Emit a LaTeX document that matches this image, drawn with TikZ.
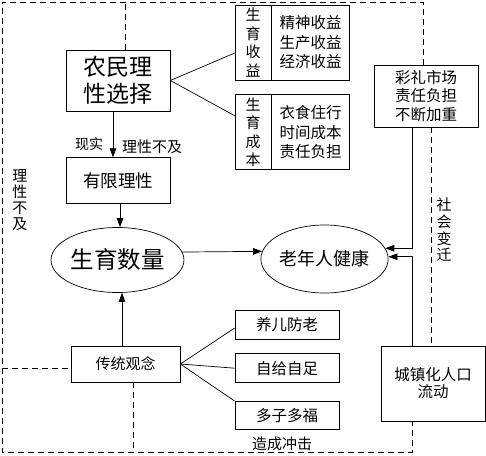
\documentclass[tikz,border=0pt]{standalone}
\usepackage{fontspec}
\setmainfont{Noto Sans CJK SC}
\usetikzlibrary{positioning, arrows.meta, shapes.geometric}

\begin{document}
\begin{tikzpicture}[
        % ----- 全局样式 -----
        x=1pt, y=1pt,
        line width=0.7pt,
        >={Triangle[length=9pt,width=6.5pt]},
        % 方框与椭圆
        box/.style={draw, inner sep=0pt, align=center},
        ell/.style={draw, ellipse, inner sep=0pt, minimum width=125pt},
        % 说明文字
        txt/.style={inner sep=0pt, align=center, font=\fontsize{15}{16}\selectfont},
        arr/.style={->},
        frame/.style={draw, dash pattern=on 6pt off 4pt}
    ]
    \useasboundingbox (0,0) rectangle (486,-455);

    % ----- 左列 -----
    \node[box, minimum width=104pt, minimum height=61pt, font=\fontsize{23}{27}\selectfont] (nm) at (118,-80.5) {农民理\\性选择};
    \node[box, minimum width=104pt, minimum height=46pt, font=\fontsize{17.5}{20}\selectfont, below=46pt of nm] (yx) {有限理性};
    \node[ell, minimum height=65pt, font=\fontsize{23.5}{26}\selectfont] (sysl) at (117.5,-260) {生育数量};
    \node[box, minimum width=109pt, minimum height=36pt, font=\fontsize{15}{17}\selectfont] (ctgn) at (125.5,-364) {传统观念};

    % ----- 收益与成本 -----
    \node[box, minimum width=36pt, minimum height=75pt, font=\fontsize{15}{18.5}\selectfont] (syl) at (253,-42.5) {生\\育\\收\\益};
    \node[box, minimum width=78pt, minimum height=75pt, font=\fontsize{15.5}{19.5}\selectfont, right=0pt of syl] (sysy) {精神收益\\生产收益\\经济收益};
    \node[box, minimum width=36pt, minimum height=75pt, font=\fontsize{15}{18.5}\selectfont, below=14pt of syl] (cbl) {生\\育\\成\\本};
    \node[box, minimum width=78pt, minimum height=75pt, font=\fontsize{15.5}{19.5}\selectfont, right=0pt of cbl] (sycb) {衣食住行\\时间成本\\责任负担};

    % ----- 右侧 -----
    \node[ell, minimum height=68pt, font=\fontsize{18}{20}\selectfont] (lnr) at (324.5,-259) {老年人健康};
    \node[box, minimum width=104pt, minimum height=62pt, font=\fontsize{15.5}{18.5}\selectfont] (cl) at (426,-96) {彩礼市场\\责任负担\\不断加重};
    \node[box, minimum width=104pt, minimum height=75pt, font=\fontsize{15.5}{17}\selectfont] (czh) at (433,-383.5) {城镇化人口\\流动};

    % ----- 传统观念分支 -----
    \node[box, minimum width=104pt, minimum height=29pt, font=\fontsize{15.5}{17}\selectfont] (yefl) at (287,-324.5) {养儿防老};
    \node[box, minimum width=104pt, minimum height=29pt, font=\fontsize{15.5}{17}\selectfont, below=14pt of yefl] (zjzz) {自给自足};
    \node[box, minimum width=104pt, minimum height=28pt, font=\fontsize{15.5}{17}\selectfont, below=18pt of zjzz] (dzdf) {多子多福};

    % ----- 文字标注 -----
    \node[txt, font=\fontsize{14}{16}\selectfont] (xs) at (89,-144) {现实};
    \node[txt] (lxbj) at (152,-147) {理性不及};
    \node[txt] (lxbjv) at (20,-200) {理\\性\\不\\及};
    \node[txt, font=\fontsize{15}{16.7}\selectfont] (shbq) at (444,-230) {社\\会\\变\\迁};
    \node[txt] (zccj) at (282,-444) {造成冲击};

    \coordinate (tl) at (2,-2);
    \coordinate (br) at (412,-452);

    % ----- 绘制箭头 -----
    \draw[arr] ([xshift=-5pt]nm.south) -- ([xshift=-5pt]yx.north);
    \draw[arr] ([xshift=2pt]yx.south) -- ([xshift=2pt]yx.south |- sysl.north);
    \draw[arr] ([xshift=-3.5pt]ctgn.north) -- ([xshift=-3.5pt]ctgn.north |- sysl.south);
    \draw[arr] (sysl.7) -- (lnr.173.5);
    \draw[arr] ([xshift=-14pt]cl.south) |- (lnr.10);
    \draw[arr] ([xshift=-21pt]czh.north) |- (lnr.2);
    \draw (nm.east) -- ([yshift=-10.5pt]syl.west);
    \draw (nm.east) -- ([yshift=16.5pt]cbl.west);
    \draw (ctgn.east) -- ([yshift=-3.5pt]yefl.west);
    \draw (ctgn.east) -- (zjzz.west);
    \draw (ctgn.east) -- (dzdf.north west);

    % ----- 虚线边界 -----
    \draw[frame] ([xshift=-3pt]cl.north) |- (tl) |- (br) -- ([xshift=-21pt]czh.south);
    \draw[frame] ([xshift=5pt]cl.south) -- ([xshift=-2pt]czh.north);
    \draw[frame] ([xshift=7pt]nm.north) -- ([xshift=7pt]nm.north |- tl);
    \draw[frame] ([yshift=-4pt]ctgn.west -| tl) -- ([yshift=-4pt]ctgn.west);
    \draw[frame] ([xshift=7.5pt]ctgn.south) -- ([xshift=7.5pt]ctgn.south |- br);
\end{tikzpicture}
\end{document}
